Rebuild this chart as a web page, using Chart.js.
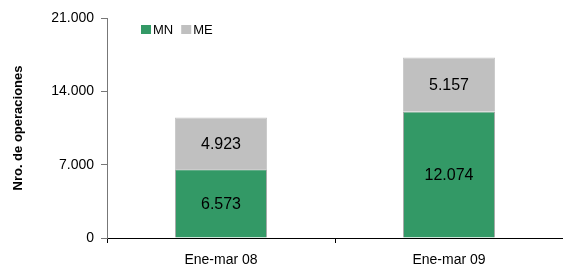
<!DOCTYPE html>
<html>
<head>
<meta charset="utf-8">
<script src="https://cdn.jsdelivr.net/npm/chart.js@4"></script>
<style>
  html, body { margin: 0; padding: 0; background: #fff; }
  #wrap { width: 563px; height: 269px; }
</style>
</head>
<body>
<div id="wrap"><canvas id="my-chart" width="563" height="269"></canvas></div>
<script>
let periods = ["Ene-mar 08", "Ene-mar 09"]
let mnValues = [6573, 12074]
let meValues = [4923, 5157]
let yTicks = [0, 7000, 14000, 21000]

function fmt(n) {
  return String(n).replace(/\B(?=(\d{3})+(?!\d))/g, ".");
}

// labels inside each bar segment
const barLabels = {
  id: 'barLabels',
  afterDatasetsDraw(chart) {
    const ctx = chart.ctx;
    ctx.save();
    ctx.font = '16px "Liberation Sans", Arial, sans-serif';
    ctx.fillStyle = '#000';
    ctx.textAlign = 'center';
    ctx.textBaseline = 'middle';
    chart.data.datasets.forEach((ds, i) => {
      chart.getDatasetMeta(i).data.forEach((bar, j) => {
        const mid = (bar.y + bar.base) / 2;
        ctx.fillText(fmt(ds.data[j]), bar.x, mid + 1);
      });
    });
    ctx.restore();
  }
};

// small legend drawn inside the plot, top left
const innerLegend = {
  id: 'innerLegend',
  afterDraw(chart) {
    const ctx = chart.ctx;
    ctx.save();
    ctx.font = '13px "Liberation Sans", Arial, sans-serif';
    ctx.textBaseline = 'middle';
    let x = chart.chartArea.left + 34;
    const y = chart.chartArea.top + 11;
    chart.data.datasets.forEach(ds => {
      ctx.fillStyle = ds.backgroundColor;
      ctx.fillRect(x, y - 4, 10, 9);
      x += 12;
      ctx.fillStyle = '#000';
      ctx.fillText(ds.label, x, y + 1);
      x += ctx.measureText(ds.label).width + 8;
    });
    ctx.restore();
  }
};

const ctx = document.getElementById('my-chart').getContext('2d');
new Chart(ctx, {
  type: 'bar',
  data: {
    labels: periods,
    datasets: [
      {
        label: 'MN',
        backgroundColor: '#339966',
        borderColor: '#a8a8a8',
        borderWidth: 1,
        data: mnValues
      },
      {
        label: 'ME',
        backgroundColor: '#c0c0c0',
        borderColor: '#c8c8c8',
        borderWidth: 1,
        data: meValues
      }
    ]
  },
  options: {
    responsive: false,
    animation: false,
    layout: { padding: { top: 18, right: -5, bottom: 0, left: 0 } },
    datasets: { bar: { categoryPercentage: 1, barPercentage: 0.404 } },
    plugins: {
      legend: { display: false },
      tooltip: { enabled: false }
    },
    scales: {
      x: {
        stacked: true,
        grid: { offset: true, drawOnChartArea: false, tickLength: 5, color: '#000' },
        border: { color: '#000', width: 1 },
        ticks: {
          color: '#000',
          padding: 9,
          font: { family: '"Liberation Sans", Arial, sans-serif', size: 14 }
        },
        afterFit(scale) { scale.height = 31; }
      },
      y: {
        stacked: true,
        min: 0,
        max: 21000,
        afterBuildTicks(scale) { scale.ticks = yTicks.map(v => ({ value: v })); },
        grid: { drawOnChartArea: false, tickLength: 6, color: '#777' },
        border: { color: '#777', width: 1 },
        ticks: {
          color: '#000',
          padding: 7,
          font: { family: '"Liberation Sans", Arial, sans-serif', size: 14 },
          callback: v => fmt(v)
        },
        title: {
          display: true,
          text: 'Nro. de operaciones',
          color: '#000',
          padding: { top: 11, bottom: 0 },
          font: { family: '"Liberation Sans", Arial, sans-serif', size: 13, weight: 'bold' }
        },
        afterFit(scale) { scale.width = 107; }
      }
    }
  },
  plugins: [barLabels, innerLegend]
});
</script>
</body>
</html>
